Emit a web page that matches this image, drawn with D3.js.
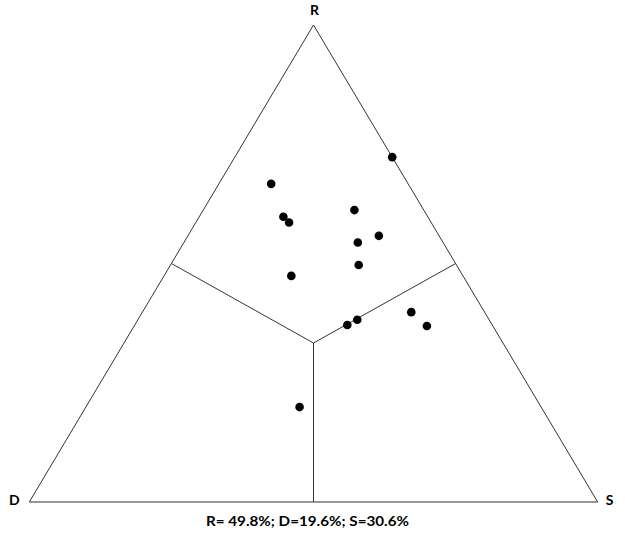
<!DOCTYPE html>
<html>
<head>
<meta charset="utf-8">
<script src="https://cdn.jsdelivr.net/npm/d3@7"></script>
<style>
  html, body { margin: 0; padding: 0; background: #fff; }
  svg { display: block; }
  text { font-family: Lato, "Open Sans", sans-serif; font-weight: bold; fill: #000; }
</style>
</head>
<body>
<svg id="chart" width="625" height="533"></svg>
<script>
// Vertex labels
const vertexLabels = ["R", "D", "S"];
// Each sample as ternary composition (fractions of R, D, S)
const valuesR = [0.723, 0.667, 0.598, 0.586, 0.612, 0.558, 0.544, 0.497, 0.474, 0.371, 0.382, 0.398, 0.369, 0.199];
const valuesD = [0.000, 0.241, 0.254, 0.250, 0.122, 0.106, 0.150, 0.172, 0.302, 0.255, 0.232, 0.129, 0.116, 0.425];
const valuesS = [0.277, 0.092, 0.148, 0.164, 0.266, 0.336, 0.306, 0.331, 0.224, 0.374, 0.386, 0.473, 0.515, 0.376];
const summaryText = "R= 49.8%; D=19.6%; S=30.6%";

const svg = d3.select("#chart");
// x position = S + R/2 ; y position = R
const x = d3.scaleLinear().domain([0, 1]).range([29.3, 597.7]);
const y = d3.scaleLinear().domain([0, 1]).range([502, 25]);
const px = (r, d, s) => x(s + r / 2);
const py = (r, d, s) => y(r);

const vR = [px(1,0,0), py(1,0,0)];
const vD = [px(0,1,0), py(0,1,0)];
const vS = [px(0,0,1), py(0,0,1)];
const c = [px(1/3,1/3,1/3), py(1/3,1/3,1/3)];
const mRD = [px(0.5,0.5,0), py(0.5,0.5,0)];
const mRS = [px(0.5,0,0.5), py(0.5,0,0.5)];
const mDS = [px(0,0.5,0.5), py(0,0.5,0.5)];

const line = d3.line();
svg.append("path")
  .attr("d", line([vR, vD, vS]) + "Z")
  .attr("fill", "none").attr("stroke", "#333").attr("stroke-width", 1);

[mRD, mRS, mDS].forEach(m => {
  svg.append("path").attr("d", line([c, m]))
    .attr("fill", "none").attr("stroke", "#333").attr("stroke-width", 1);
});

const pts = valuesR.map((r, i) => ({ r, d: valuesD[i], s: valuesS[i] }));
svg.append("g").selectAll("circle").data(pts).join("circle")
  .attr("cx", p => px(p.r, p.d, p.s))
  .attr("cy", p => py(p.r, p.d, p.s))
  .attr("r", 4.3)
  .attr("fill", "#000");

svg.append("text").attr("x", vR[0] + 1).attr("y", 15).attr("text-anchor", "middle")
  .attr("font-size", 14).text(vertexLabels[0]);
svg.append("text").attr("x", vD[0] - 15).attr("y", 505).attr("text-anchor", "middle")
  .attr("font-size", 14).text(vertexLabels[1]);
svg.append("text").attr("x", vS[0] + 12).attr("y", 505).attr("text-anchor", "middle")
  .attr("font-size", 14).text(vertexLabels[2]);

svg.append("text").attr("x", 307.5).attr("y", 526).attr("text-anchor", "middle")
  .attr("font-size", 14).attr("textLength", 203).attr("lengthAdjust", "spacingAndGlyphs")
  .text(summaryText);
</script>
</body>
</html>
